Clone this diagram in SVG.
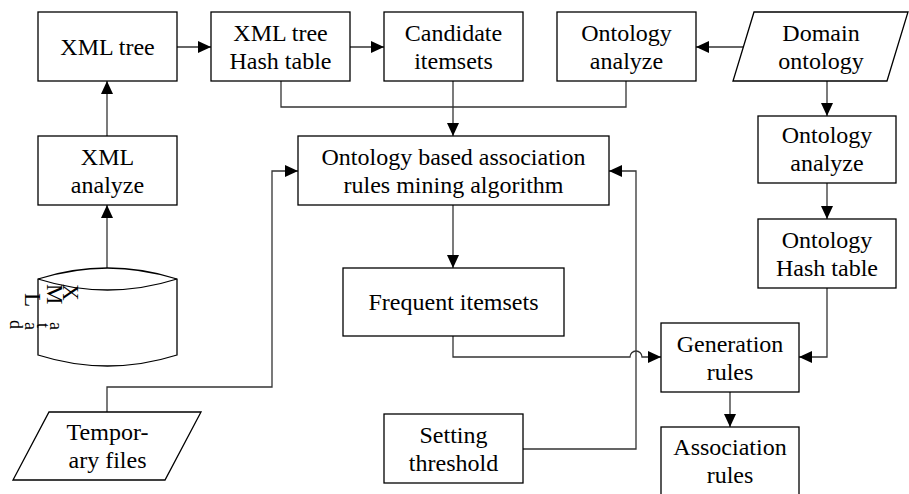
<svg xmlns="http://www.w3.org/2000/svg" width="909" height="494" viewBox="0 0 909 494" font-family="'Liberation Serif', 'Times New Roman', serif">
<style>
.box{fill:#fff;stroke:#000;stroke-width:1.3}
.t{font-family:'Liberation Serif','Times New Roman',serif;font-size:24px;fill:#000;text-anchor:middle}
.c{fill:none;stroke:#333;stroke-width:1.3}
</style>
<defs>
<marker id="ah" markerUnits="userSpaceOnUse" markerWidth="14" markerHeight="13" refX="13" refY="6" orient="auto">
<path d="M0,0 L13,6 L0,12 z" fill="#000"/>
</marker>
</defs>
<rect width="909" height="494" fill="#fff"/>
<g id="connectors">
<path class="c" d="M177,47 L211,47" marker-end="url(#ah)"/>
<path class="c" d="M350,47 L384,47" marker-end="url(#ah)"/>
<path class="c" d="M744,47 L696,47" marker-end="url(#ah)"/>
<path class="c" d="M281,81 L281,107 L453,107"/>
<path class="c" d="M626,81 L626,107 L453,107"/>
<path class="c" d="M453,81 L453,136" marker-end="url(#ah)"/>
<path class="c" d="M453,205 L453,268" marker-end="url(#ah)"/>
<path class="c" d="M453,336 L453,357 L630,357 A6,6 0 0 1 642,357 L661,357" marker-end="url(#ah)"/>
<path class="c" d="M107,412 L107,387 L272,387 L272,171 L298,171" marker-end="url(#ah)"/>
<path class="c" d="M523,449 L636,449 L636,171 L609,171" marker-end="url(#ah)"/>
<path class="c" d="M827,81 L827,116" marker-end="url(#ah)"/>
<path class="c" d="M827,183 L827,219" marker-end="url(#ah)"/>
<path class="c" d="M827,288 L827,357 L799,357" marker-end="url(#ah)"/>
<path class="c" d="M730,392 L730,427" marker-end="url(#ah)"/>
<path class="c" d="M107,136 L107,81" marker-end="url(#ah)"/>
<path class="c" d="M107,268 L107,205" marker-end="url(#ah)"/>
</g>
<g id="xml-tree"><rect class="box" x="38" y="12" width="139" height="69"/><text class="t" x="107.5" y="54.5">XML tree</text></g>
<g id="xml-hash"><rect class="box" x="211" y="12" width="139" height="69"/><text class="t" x="280.5" y="40.5">XML tree</text><text class="t" x="280.5" y="68.5">Hash table</text></g>
<g id="candidate"><rect class="box" x="384" y="12" width="139" height="69"/><text class="t" x="453.5" y="40.5">Candidate</text><text class="t" x="453.5" y="68.5">itemsets</text></g>
<g id="ontology-analyze-1"><rect class="box" x="557" y="12" width="139" height="69"/><text class="t" x="626.5" y="40.5">Ontology</text><text class="t" x="626.5" y="68.5">analyze</text></g>
<g id="domain-ontology"><path class="box" d="M754,12 L908,12 L887,81 L733,81 Z"/><text class="t" x="821" y="40.5">Domain</text><text class="t" x="821" y="68.5">ontology</text></g>
<g id="xml-analyze"><rect class="box" x="38" y="136" width="139" height="69"/><text class="t" x="107.5" y="164.5">XML</text><text class="t" x="107.5" y="192.5">analyze</text></g>
<g id="algorithm"><rect class="box" x="298" y="136" width="311" height="69"/><text class="t" x="453.5" y="164.5">Ontology based association</text><text class="t" x="453.5" y="192.5">rules mining algorithm</text></g>
<g id="ontology-analyze-2"><rect class="box" x="758" y="116" width="138" height="67"/><text class="t" x="827" y="143">Ontology</text><text class="t" x="827" y="171">analyze</text></g>
<g id="ontology-hash"><rect class="box" x="758" y="219" width="138" height="69"/><text class="t" x="827" y="247.5">Ontology</text><text class="t" x="827" y="275.5">Hash table</text></g>
<g id="xml-data">
<path class="box" d="M38,279 Q107.5,257 177,279 L177,355 Q107.5,377 38,355 Z"/>
<path class="c" style="stroke:#000" d="M38,279 Q107.5,301 177,279"/>
<text font-family="'Liberation Serif', serif" font-size="23" x="63 47 25" y="284 284 293" rotate="90">XML</text>
<text font-family="'Liberation Serif', serif" font-size="18" x="10 25 37 50" y="320 322 323 322" rotate="90">data</text>
</g>
<g id="frequent"><rect class="box" x="343" y="268" width="221" height="68"/><text class="t" x="453.5" y="310">Frequent itemsets</text></g>
<g id="generation"><rect class="box" x="661" y="323" width="138" height="69"/><text class="t" x="730" y="351.5">Generation</text><text class="t" x="730" y="379.5">rules</text></g>
<g id="association"><rect class="box" x="661" y="427" width="138" height="69"/><text class="t" x="730" y="455">Association</text><text class="t" x="730" y="483">rules</text></g>
<g id="temporary-files"><path class="box" d="M49,412 L201,412 L165,480 L13,480 Z"/><text class="t" x="107.5" y="440">Tempor-</text><text class="t" x="107.5" y="468">ary files</text></g>
<g id="setting-threshold"><rect class="box" x="384" y="414" width="139" height="69"/><text class="t" x="453.5" y="442.5">Setting</text><text class="t" x="453.5" y="470.5">threshold</text></g>
</svg>
